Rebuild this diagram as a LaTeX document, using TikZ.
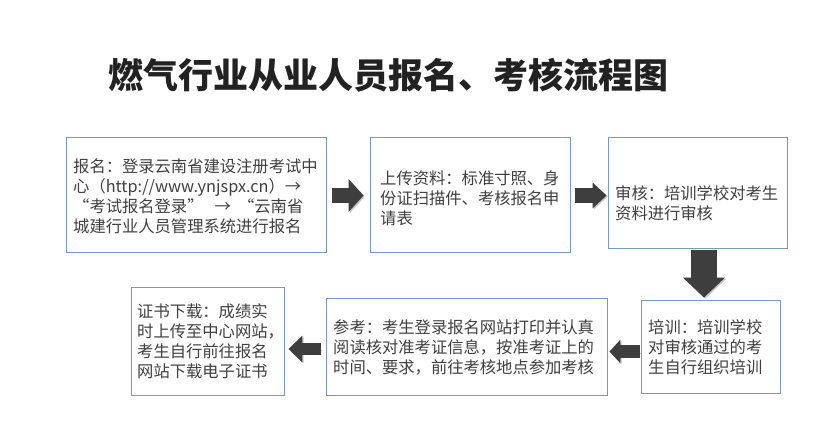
\documentclass[tikz,border=0pt]{standalone}
\usepackage{fontspec}
\setmainfont{Noto Sans CJK SC}
\usetikzlibrary{calc,arrows.meta}
\definecolor{boxblue}{RGB}{122,152,196}
\definecolor{txtgray}{RGB}{64,64,64}
\definecolor{titlegray}{RGB}{34,34,34}
\definecolor{arrowgray}{RGB}{62,62,62}
\tikzset{
  box/.style={draw=boxblue, line width=0.9pt, fill=white, inner sep=0pt},
  txt/.style={anchor=west, align=left, inner sep=0pt, text=txtgray,
    font=\fontsize{16.3}{20}\selectfont},
  blk/.style n args={3}{draw=arrowgray, line width=#1,
    -{Triangle[length=#2,width=#3]},
    preaction={draw=black, opacity=0.22, transform canvas={shift={(1.2pt,-1.2pt)}}}}
}
\begin{document}
\begin{tikzpicture}[x=1pt,y=-1pt]
\useasboundingbox (0,0) rectangle (820,439);
\fill[white] (0,0) rectangle (820,439);

\node[text=titlegray, font=\fontsize{35}{42}\selectfont\bfseries, inner sep=0pt, anchor=west] (title) at (108,75) {燃气行业从业人员报名\makebox[1em][l]{、}考核流程图};

% boxes
\node[box, minimum width=260pt, minimum height=115pt] (b1) at (196,194.5) {};
\node[box, minimum width=200pt, minimum height=115pt] (b2) at (470,194.5) {};
\node[box, minimum width=179pt, minimum height=111pt] (b3) at (697.5,192.5) {};
\node[box, minimum width=139pt, minimum height=93pt] (b4) at (710.5,346.5) {};
\node[box, minimum width=281pt, minimum height=97pt] (b5) at (466.5,346.5) {};
\node[box, minimum width=153pt, minimum height=108pt] (b6) at (207.5,341) {};

% texts
\node[txt] (t1) at (73,196) {报名：登录云南省建设注册考试中\\心（http://www.ynjspx.cn）→\\“考试报名登录”\ \ \ →\ \ “云南省\\城建行业人员管理系统进行报名};
\node[txt] (t2) at (380,198.5) {上传资料：标准寸照、身\\份证扫描件、考核报名申\\请表};
\node[txt] (t3) at (615,203) {审核：培训学校对考生\\资料进行审核};
\node[txt] (t4) at (648,347.5) {培训：培训学校\\对审核通过的考\\生自行组织培训};
\node[txt] (t5) at (333,347.5) {参考：考生登录报名网站打印并认真\\阅读核对准考证信息，按准考证上的\\时间、要求，前往考核地点参加考核};
\node[txt] (t6) at (137,341) {证书下载：成绩实\\时上传至中心网站，\\考生自行前往报名\\网站下载电子证书};

% block arrows
\draw[blk={15pt}{15pt}{32pt}] ($(b1.east)+(6,1)$) -- ($(b2.west)+(-6,1)$);
\draw[blk={15pt}{14pt}{25pt}] ($(b2.east)+(5,1)$) -- ($(b2.east -| b3.west)+(-1,1)$);
\draw[blk={26pt}{20pt}{41pt}] ($(b3.south)+(6.5,2)$) -- ($(b3.south |- b4.north)+(6.5,-2)$);
\draw[blk={13pt}{11pt}{23pt}] ($(b4.west)+(-1,5)$) -- ($(b4.west -| b5.east)+(2,5)$);
\draw[blk={12pt}{14pt}{26pt}] ($(b5.west)+(-5,2.5)$) -- ($(b5.west -| b6.east)+(4,2.5)$);
\end{tikzpicture}
\end{document}
